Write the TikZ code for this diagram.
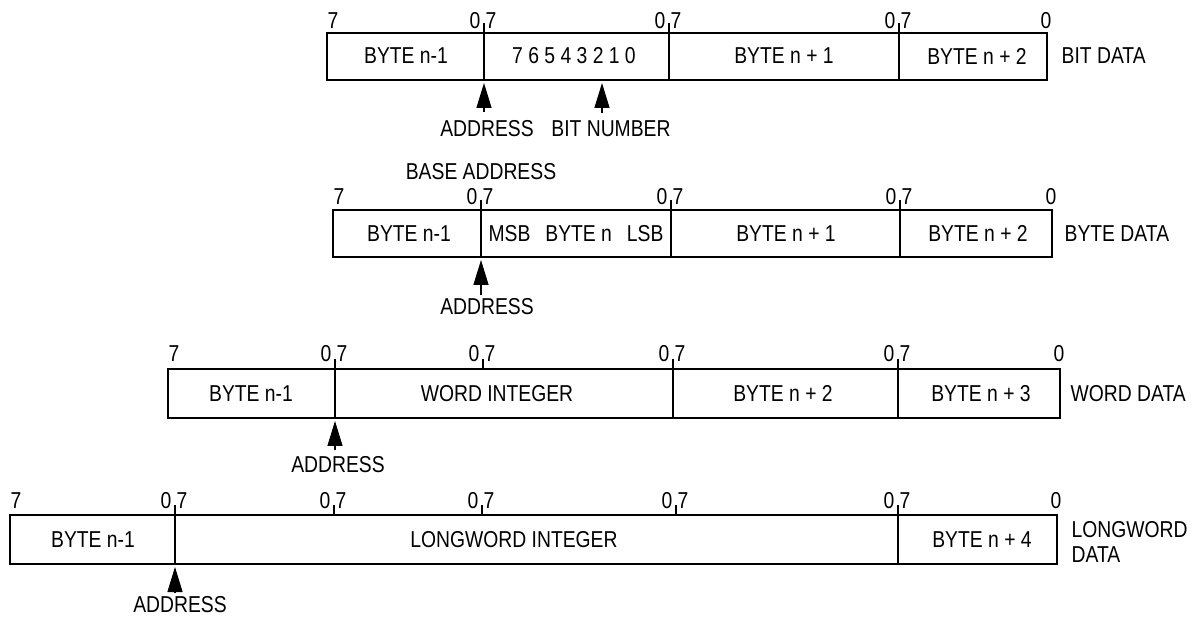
\documentclass[tikz,border=0pt]{standalone}
\usepackage{fontspec}
\setmainfont{Liberation Sans}[FakeStretch=0.84]
\usetikzlibrary{arrows.meta}
\begin{document}
\begin{tikzpicture}[x=1pt,y=-1pt,
  font=\fontsize{23}{25}\selectfont,
  line width=1.3pt,
  every node/.style={inner sep=0pt},
  num/.style={inner sep=0pt},
  ptr/.style={-{Triangle[width=15pt,length=25pt]}, line width=1.3pt}]
\useasboundingbox (0,0) rectangle (1200,617);

% ---------------- Row 1: BIT DATA ----------------
\draw (327,33) rectangle (1047,80);
\foreach \d [count=\i] in {484,669,899}{
  \draw (\d,23) -- (\d,80);
  \node[num, anchor=base east] (r1z\i) at (\d-3,29) {0};
  \node[num, anchor=base west] (r1s\i) at (\d+1,29) {7};
}
\node[num, anchor=base west] (r1l) at (327,29) {7};
\node[num, anchor=base] (r1r) at (1046,29) {0};
\node (r1a) at (406,56) {BYTE n-1};
\node (r1b) at (574,56) {7 6 5 4 3 2 1 0};
\node (r1c) at (784,56) {BYTE n + 1};
\node (r1d) at (977,56) {BYTE n + 2};
\node[anchor=west] (r1e) at (1061,56) {BIT DATA};
\coordinate (r1t1) at (484,83);
\coordinate (r1t2) at (602,83);
\node[anchor=base] (r1p1) at (487,137) {ADDRESS};
\node[anchor=base] (r1p2) at (611,137) {BIT NUMBER};
\draw[ptr] ([yshift=8pt]r1p1.north -| r1t1) -- (r1t1);
\draw[ptr] ([yshift=8pt]r1p2.north -| r1t2) -- (r1t2);

% ---------------- Row 2: BYTE DATA ----------------
\node[anchor=base] (r2base) at (481,180) {BASE ADDRESS};
\draw (333,210) rectangle (1052,257);
\foreach \d [count=\i] in {481,671,900}{
  \draw (\d,200) -- (\d,257);
  \node[num, anchor=base east] (r2z\i) at (\d-3,205) {0};
  \node[num, anchor=base west] (r2s\i) at (\d+1,205) {7};
}
\node[num, anchor=base west] (r2l) at (333,205) {7};
\node[num, anchor=base] (r2r) at (1051,205) {0};
\node (r2a) at (409,233.5) {BYTE n-1};
\node (r2b) at (576,233.5) {MSB\hspace{15pt}BYTE n\hspace{15pt}LSB};
\node (r2c) at (786,233.5) {BYTE n + 1};
\node (r2d) at (978,233.5) {BYTE n + 2};
\node[anchor=west] (r2e) at (1064,233.5) {BYTE DATA};
\coordinate (r2t1) at (481,260);
\node[anchor=base] (r2p1) at (487,315) {ADDRESS};
\draw[ptr] ([yshift=3pt]r2p1.north -| r2t1) -- (r2t1);

% ---------------- Row 3: WORD DATA ----------------
\draw (168,369) rectangle (1060,418);
\foreach \d [count=\i] in {335,673,898}{
  \draw (\d,359) -- (\d,418);
  \node[num, anchor=base east] (r3z\i) at (\d-3,362) {0};
  \node[num, anchor=base west] (r3s\i) at (\d+1,362) {7};
}
\draw (483,359) -- (483,369);
\node[num, anchor=base east] (r3zm) at (480,362) {0};
\node[num, anchor=base west] (r3sm) at (484,362) {7};
\node[num, anchor=base west] (r3l) at (168,362) {7};
\node[num, anchor=base] (r3r) at (1059,362) {0};
\node (r3a) at (251,393.5) {BYTE n-1};
\node (r3b) at (497,393.5) {WORD INTEGER};
\node (r3c) at (783,393.5) {BYTE n + 2};
\node (r3d) at (981,393.5) {BYTE n + 3};
\node[anchor=west] (r3e) at (1070,393.5) {WORD DATA};
\coordinate (r3t1) at (335,421);
\node[anchor=base] (r3p1) at (338,472) {ADDRESS};
\draw[ptr] ([yshift=5pt]r3p1.north -| r3t1) -- (r3t1);

% ---------------- Row 4: LONGWORD DATA ----------------
\draw (10,515) rectangle (1057,564);
\foreach \d [count=\i] in {175,898}{
  \draw (\d,505) -- (\d,564);
  \node[num, anchor=base east] (r4z\i) at (\d-3,508) {0};
  \node[num, anchor=base west] (r4s\i) at (\d+1,508) {7};
}
\foreach \d [count=\i] in {334,482,676}{
  \draw (\d,505) -- (\d,515);
  \node[num, anchor=base east] (r4y\i) at (\d-3,508) {0};
  \node[num, anchor=base west] (r4x\i) at (\d+1,508) {7};
}
\node[num, anchor=base west] (r4l) at (10,508) {7};
\node[num, anchor=base] (r4r) at (1056,508) {0};
\node (r4a) at (93,539.5) {BYTE n-1};
\node (r4b) at (514,539.5) {LONGWORD INTEGER};
\node (r4c) at (982,539.5) {BYTE n + 4};
\node[anchor=west, align=left] (r4e) at (1071,542) {LONGWORD\\DATA};
\coordinate (r4t1) at (175,567);
\node[anchor=base] (r4p1) at (180,612) {ADDRESS};
\draw[ptr] ([yshift=2pt]r4p1.north -| r4t1) -- (r4t1);
\end{tikzpicture}
\end{document}
